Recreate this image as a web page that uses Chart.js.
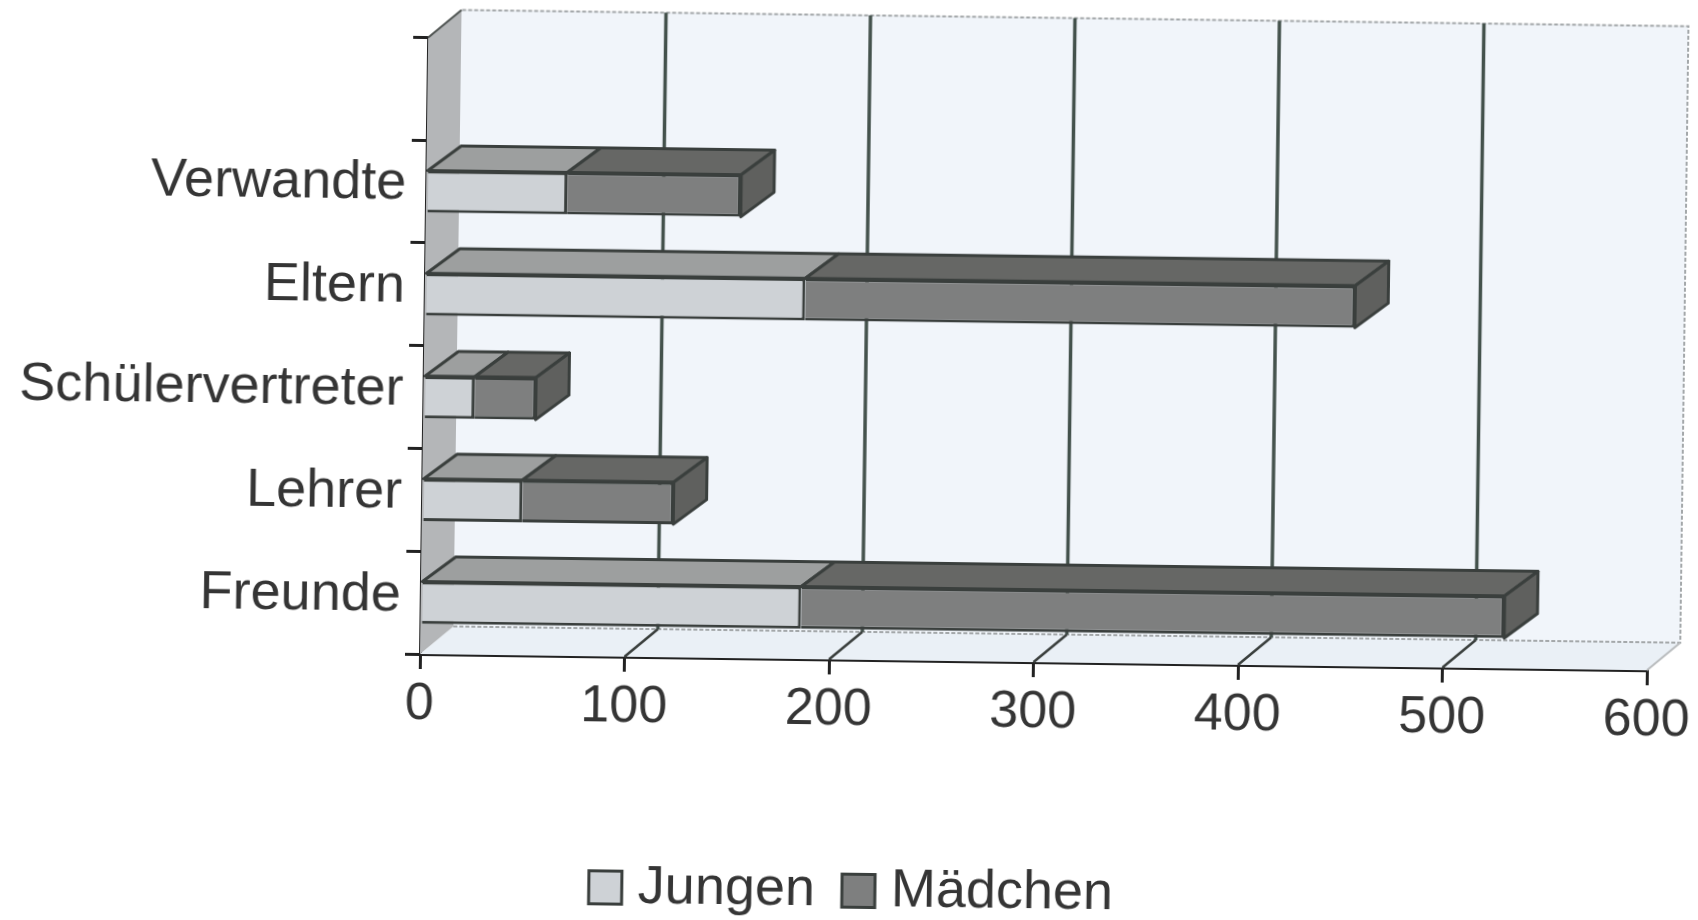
<!DOCTYPE html>
<html>
<head>
<meta charset="utf-8">
<title>Jungen / Mädchen</title>
<script src="https://cdn.jsdelivr.net/npm/chart.js@4"></script>
<style>
  html, body { margin: 0; background: #fff; overflow: hidden; }
  /* the original is a slightly crooked scan, so the whole chart is turned a bit */
  #chart { display: block; transform-origin: 420px 654px; transform: rotate(0.76deg); }
</style>
</head>
<body>
<canvas id="chart" width="1698" height="920"></canvas>
<script>
// values
const categories = ["", "Verwandte", "Eltern", "Schülervertreter", "Lehrer", "Freunde"];
const jungen = [null, 69, 186, 25, 49, 186];
const maedchen = [null, 85, 269, 30, 74, 344];
const seriesNames = ["Jungen", "Mädchen"];
const xMax = 600;
const xStep = 100;

// how far the fake 3D depth goes
const depthX = 33;
const roomDepthY = -28;
const barDepthY = -25;

const ink = "#3a3f3d";
const textColor = "#353535";
const fontFamily = "'Liberation Sans', Arial, sans-serif";

function face(ctx, points, fill, stroke, width) {
  ctx.beginPath();
  points.forEach((p, i) => (i ? ctx.lineTo(p[0], p[1]) : ctx.moveTo(p[0], p[1])));
  ctx.closePath();
  if (fill) {
    ctx.fillStyle = fill;
    ctx.fill();
  }
  if (stroke) {
    ctx.strokeStyle = stroke;
    ctx.lineWidth = width;
    ctx.stroke();
  }
}

// back wall, side wall, floor and the shifted grid lines
const roomPlugin = {
  id: "room",
  // the legend is centred on the page, not on what the right padding leaves
  afterLayout(chart) {
    chart.legend.left += 36;
    chart.legend.right += 36;
  },
  beforeDatasetsDraw(chart) {
    const { ctx, chartArea: a, scales } = chart;
    ctx.save();
    // back wall
    face(ctx, [[a.left + depthX, a.top + roomDepthY], [a.right + depthX, a.top + roomDepthY],
      [a.right + depthX, a.bottom + roomDepthY], [a.left + depthX, a.bottom + roomDepthY]], "#f1f5fa");
    // floor
    face(ctx, [[a.left, a.bottom], [a.right, a.bottom],
      [a.right + depthX, a.bottom + roomDepthY], [a.left + depthX, a.bottom + roomDepthY]], "#eaf0f6");
    // left wall
    face(ctx, [[a.left, a.top], [a.left + depthX, a.top + roomDepthY],
      [a.left + depthX, a.bottom + roomDepthY], [a.left, a.bottom]], "#b4b6b8");

    // dotted grey outline of the room
    ctx.strokeStyle = "#a4a8aa";
    ctx.lineWidth = 2;
    ctx.setLineDash([4, 2]);
    ctx.beginPath();
    ctx.moveTo(a.left + depthX, a.bottom + roomDepthY);
    ctx.lineTo(a.right + depthX, a.bottom + roomDepthY);
    ctx.lineTo(a.right + depthX, a.top + roomDepthY);
    ctx.lineTo(a.left + depthX, a.top + roomDepthY);
    ctx.stroke();
    ctx.setLineDash([]);
    ctx.strokeStyle = "#b9bcbe";
    ctx.beginPath();
    ctx.moveTo(a.right, a.bottom);
    ctx.lineTo(a.right + depthX, a.bottom + roomDepthY);
    ctx.stroke();
    ctx.strokeStyle = "#4d5250";
    ctx.beginPath();
    ctx.moveTo(a.left, a.top);
    ctx.lineTo(a.left + depthX, a.top + roomDepthY);
    ctx.stroke();

    // grid lines, running over the floor and up the back wall
    scales.x.ticks.forEach((tick) => {
      if (tick.value === 0 || tick.value === xMax) return;
      const px = scales.x.getPixelForValue(tick.value);
      ctx.strokeStyle = "#44524c";
      ctx.lineWidth = 3.5;
      ctx.beginPath();
      ctx.moveTo(px + depthX, a.bottom + roomDepthY);
      ctx.lineTo(px + depthX, a.top + roomDepthY);
      ctx.stroke();
      ctx.strokeStyle = ink;
      ctx.lineWidth = 2.5;
      ctx.beginPath();
      ctx.moveTo(px, a.bottom);
      ctx.lineTo(px + depthX, a.bottom + roomDepthY);
      ctx.stroke();
    });
    ctx.restore();
  },
  // top and end faces of the bars, taken from the bars the library placed
  afterDatasetsDraw(chart) {
    const { ctx } = chart;
    const tops = ["#9d9f9f", "#666765"];
    ctx.save();
    ctx.lineJoin = "round";
    chart.data.datasets.forEach((ds, d) => {
      chart.getDatasetMeta(d).data.forEach((bar, i) => {
        if (ds.data[i] === null) return;
        const y0 = bar.y - bar.height / 2;
        const y1 = bar.y + bar.height / 2;
        face(ctx, [[bar.base, y0], [bar.x, y0], [bar.x + depthX, y0 + barDepthY],
          [bar.base + depthX, y0 + barDepthY]], tops[d], ink, 3);
        if (d === 1) {
          face(ctx, [[bar.x, y0], [bar.x + depthX, y0 + barDepthY],
            [bar.x + depthX, y1 + barDepthY], [bar.x, y1]], "#5f605e", ink, 3);
        }
      });
    });
    ctx.restore();
  },
};

new Chart(document.getElementById("chart"), {
  type: "bar",
  data: {
    labels: categories,
    datasets: [
      { label: seriesNames[0], data: jungen, backgroundColor: "#ced2d6", borderColor: ink, borderWidth: 3 },
      { label: seriesNames[1], data: maedchen, backgroundColor: "#7e7f7f", borderColor: ink, borderWidth: 3 },
    ],
  },
  plugins: [roomPlugin],
  options: {
    indexAxis: "y",
    responsive: false,
    animation: false,
    barPercentage: 0.41,
    categoryPercentage: 1,
    layout: { padding: { top: 35, right: 51, left: 0, bottom: -2 } },
    plugins: {
      tooltip: { enabled: false },
      legend: {
        position: "bottom",
        labels: {
          // small boxWidth pulls the text closer to the square than the legend normally allows
          usePointStyle: true,
          pointStyle: "rect",
          boxWidth: 11,
          boxHeight: 33,
          padding: 38,
          color: textColor,
          font: { family: fontFamily, size: 54 },
        },
      },
    },
    scales: {
      x: {
        stacked: true,
        min: 0,
        max: xMax,
        ticks: { stepSize: xStep, color: textColor, padding: 4, maxRotation: 0, font: { family: fontFamily, size: 52 } },
        grid: { drawOnChartArea: false, color: "#222", lineWidth: 3, tickLength: 15 },
        border: { color: "#222", width: 3 },
        afterFit(scale) { scale.height = 166; },
      },
      y: {
        stacked: true,
        ticks: { color: textColor, padding: 5, labelOffset: -7, autoSkip: false, font: { family: fontFamily, size: 54 } },
        grid: { drawOnChartArea: false, color: "#222", lineWidth: 3, tickLength: 15 },
        border: { color: "#222", width: 3 },
        afterFit(scale) { scale.width = 420; },
      },
    },
  },
});
</script>
</body>
</html>
